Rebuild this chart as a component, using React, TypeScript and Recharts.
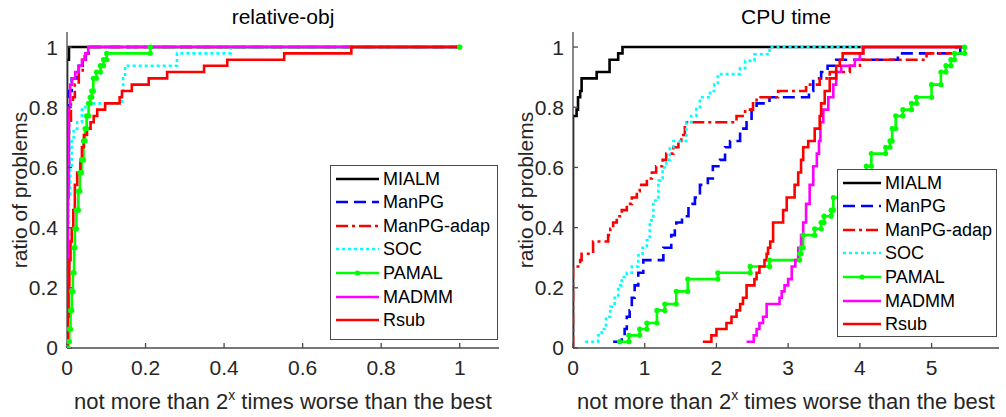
import React from 'react';
import { LineChart, Line, XAxis, YAxis } from 'recharts';

type P = [number, number];

const seriesNames = ['MIALM', 'ManPG', 'ManPG-adap', 'SOC', 'PAMAL', 'MADMM', 'Rsub'];
const seriesColors = ['#000000', '#0000ff', '#ff0000', '#00ffff', '#00ff00', '#ff00ff', '#ff0000'];
const seriesDash = ['', '12 6', '12 4 3 4', '3 3', '', '', ''];
const seriesMarker = [false, false, false, false, true, false, false];

// ---- relative-obj panel (x, ratio) ----
const relMIALM: P[] = [[0, 0], [0, 0.958], [0.005, 1], [1, 1]];
const relManPG: P[] = [[0, 0], [0.002, 0.6], [0.005, 0.854], [0.012, 0.896], [0.025, 0.917], [0.03, 0.938], [0.04, 0.958], [0.048, 0.979], [0.055, 1], [1, 1]];
const relManPGadap: P[] = [[0, 0], [0.002, 0.5], [0.005, 0.75], [0.01, 0.813], [0.015, 0.833], [0.02, 0.875], [0.03, 0.917], [0.04, 0.958], [0.045, 0.979], [0.055, 1], [1, 1]];
const relSOC: P[] = [[0, 0], [0.002, 0.3], [0.005, 0.5], [0.008, 0.6], [0.012, 0.688], [0.017, 0.729], [0.026, 0.75], [0.038, 0.792], [0.047, 0.813], [0.14, 0.854], [0.143, 0.896], [0.148, 0.938], [0.28, 0.979], [0.417, 1], [1, 1]];
const relPAMAL: P[] = [[0, 0], [0.003, 0.021], [0.006, 0.063], [0.009, 0.125], [0.012, 0.188], [0.015, 0.25], [0.018, 0.333], [0.02, 0.396], [0.024, 0.458], [0.029, 0.521], [0.033, 0.583], [0.037, 0.625], [0.042, 0.688], [0.046, 0.729], [0.05, 0.771], [0.055, 0.813], [0.059, 0.833], [0.063, 0.854], [0.067, 0.896], [0.075, 0.917], [0.085, 0.938], [0.093, 0.958], [0.101, 0.979], [0.212, 1], [1, 1]];
const relMADMM: P[] = [[0, 0], [0.001, 0.2], [0.002, 0.5], [0.004, 0.8], [0.008, 0.875], [0.013, 0.896], [0.021, 0.917], [0.03, 0.938], [0.038, 0.958], [0.047, 0.979], [0.054, 1], [1, 1]];
const relRsub: P[] = [[0, 0], [0.002, 0.104], [0.004, 0.208], [0.006, 0.292], [0.009, 0.354], [0.012, 0.396], [0.016, 0.458], [0.02, 0.542], [0.026, 0.583], [0.034, 0.625], [0.038, 0.667], [0.043, 0.708], [0.051, 0.729], [0.06, 0.75], [0.068, 0.771], [0.077, 0.792], [0.097, 0.813], [0.134, 0.833], [0.14, 0.854], [0.165, 0.875], [0.208, 0.896], [0.255, 0.917], [0.349, 0.938], [0.408, 0.958], [0.553, 0.979], [0.724, 1], [1, 1]];

// ---- CPU time panel ----
const cpuMIALM: P[] = [[0, 0], [0, 0.771], [0.05, 0.792], [0.07, 0.833], [0.1, 0.854], [0.12, 0.896], [0.33, 0.917], [0.51, 0.958], [0.63, 0.979], [0.69, 1], [5.46, 1]];
const cpuManPG: P[] = [[0.56, 0.021], [0.68, 0.042], [0.72, 0.063], [0.75, 0.104], [0.79, 0.125], [0.82, 0.167], [0.86, 0.208], [0.91, 0.25], [0.98, 0.292], [1.26, 0.333], [1.37, 0.375], [1.42, 0.396], [1.44, 0.417], [1.52, 0.438], [1.61, 0.479], [1.7, 0.5], [1.77, 0.542], [1.88, 0.563], [1.95, 0.604], [2.05, 0.625], [2.12, 0.667], [2.19, 0.688], [2.33, 0.729], [2.42, 0.75], [2.49, 0.792], [2.56, 0.813], [2.74, 0.833], [3.29, 0.854], [3.35, 0.896], [3.46, 0.917], [3.55, 0.938], [3.67, 0.958], [4.53, 0.979], [5.4, 1], [5.46, 1]];
const cpuManPGadap: P[] = [[0, 0], [0, 0.271], [0.1, 0.292], [0.12, 0.313], [0.28, 0.354], [0.49, 0.375], [0.52, 0.396], [0.56, 0.417], [0.61, 0.438], [0.68, 0.458], [0.75, 0.479], [0.82, 0.5], [0.89, 0.521], [0.93, 0.542], [1.03, 0.563], [1.1, 0.583], [1.16, 0.604], [1.25, 0.625], [1.3, 0.646], [1.4, 0.667], [1.47, 0.688], [1.51, 0.708], [1.56, 0.75], [2.28, 0.771], [2.4, 0.792], [2.51, 0.813], [2.56, 0.833], [2.86, 0.854], [3.25, 0.875], [3.44, 0.896], [3.58, 0.917], [3.86, 0.938], [4.0, 0.958], [4.93, 0.979], [5.35, 1], [5.46, 1]];
const cpuSOC: P[] = [[0.17, 0.021], [0.35, 0.042], [0.4, 0.063], [0.46, 0.104], [0.52, 0.137], [0.58, 0.167], [0.63, 0.208], [0.68, 0.236], [0.75, 0.25], [0.82, 0.271], [0.91, 0.308], [0.97, 0.333], [1.03, 0.358], [1.07, 0.424], [1.12, 0.49], [1.19, 0.556], [1.25, 0.6], [1.3, 0.625], [1.35, 0.667], [1.4, 0.688], [1.58, 0.75], [1.65, 0.771], [1.72, 0.8], [1.77, 0.833], [1.91, 0.854], [1.97, 0.875], [2.02, 0.91], [2.33, 0.93], [2.4, 0.954], [2.53, 0.976], [2.74, 1], [5.46, 1]];
const cpuPAMAL: P[] = [[0.65, 0.021], [0.78, 0.042], [0.93, 0.063], [1.03, 0.083], [1.17, 0.125], [1.28, 0.146], [1.44, 0.188], [1.6, 0.229], [2.02, 0.25], [2.47, 0.271], [2.74, 0.292], [3.16, 0.313], [3.18, 0.333], [3.21, 0.375], [3.37, 0.396], [3.46, 0.417], [3.5, 0.438], [3.6, 0.458], [3.63, 0.5], [3.8, 0.521], [3.95, 0.542], [4.05, 0.583], [4.09, 0.604], [4.16, 0.646], [4.36, 0.667], [4.42, 0.688], [4.45, 0.729], [4.5, 0.771], [4.6, 0.792], [4.72, 0.813], [4.79, 0.833], [5.0, 0.875], [5.13, 0.917], [5.2, 0.938], [5.27, 0.958], [5.32, 0.979], [5.46, 1]];
const cpuMADMM: P[] = [[2.42, 0.021], [2.52, 0.042], [2.56, 0.063], [2.6, 0.083], [2.65, 0.104], [2.7, 0.146], [2.88, 0.167], [2.91, 0.188], [2.95, 0.208], [3.0, 0.229], [3.05, 0.271], [3.1, 0.292], [3.14, 0.333], [3.18, 0.375], [3.21, 0.417], [3.25, 0.479], [3.3, 0.542], [3.35, 0.604], [3.4, 0.646], [3.43, 0.688], [3.45, 0.75], [3.49, 0.792], [3.56, 0.833], [3.63, 0.875], [3.67, 0.917], [3.74, 0.938], [3.93, 0.958], [4.0, 0.979], [4.04, 1], [5.46, 1]];
const cpuRsub: P[] = [[1.81, 0.021], [1.93, 0.042], [2.0, 0.063], [2.14, 0.083], [2.21, 0.104], [2.28, 0.125], [2.33, 0.146], [2.37, 0.167], [2.42, 0.208], [2.53, 0.229], [2.56, 0.25], [2.6, 0.271], [2.67, 0.292], [2.7, 0.313], [2.72, 0.333], [2.75, 0.354], [2.79, 0.417], [2.93, 0.458], [2.98, 0.5], [3.09, 0.542], [3.14, 0.583], [3.18, 0.625], [3.21, 0.667], [3.28, 0.688], [3.37, 0.729], [3.44, 0.771], [3.46, 0.813], [3.51, 0.854], [3.58, 0.896], [3.67, 0.938], [3.72, 0.958], [3.76, 0.979], [4.05, 1], [5.46, 1]];

const relSeries = [relMIALM, relManPG, relManPGadap, relSOC, relPAMAL, relMADMM, relRsub];
const cpuSeries = [cpuMIALM, cpuManPG, cpuManPGadap, cpuSOC, cpuPAMAL, cpuMADMM, cpuRsub];

const relXTicks = [0, 0.2, 0.4, 0.6, 0.8, 1];
const cpuXTicks = [0, 1, 2, 3, 4, 5];
const yTicks = [0, 0.2, 0.4, 0.6, 0.8, 1];

const FONT = '"Liberation Sans", Arial, Helvetica, sans-serif';
const AXIS = '#4a4a4a';
const TXT = '#262626';

// stairs (MATLAB style): horizontal then vertical at each new point
function toStairs(pts: P[]) {
  const out: { x: number; y: number }[] = [];
  pts.forEach((p, i) => {
    if (i > 0) out.push({ x: p[0], y: pts[i - 1][1] });
    out.push({ x: p[0], y: p[1] });
  });
  return out;
}

type LegendBox = { left: number; top: number; width: number; height: number; textLeft: number };

function Legend({ left, top, width, height, textLeft }: LegendBox) {
  return (
    <div
      style={{
        position: 'absolute',
        left,
        top,
        width,
        height,
        background: '#ffffff',
        border: `1.3px solid ${AXIS}`,
        boxSizing: 'border-box',
        fontFamily: FONT,
        fontSize: 18,
        color: '#000',
      }}
    >
      {seriesNames.map((n, i) => (
        <div key={n} style={{ position: 'absolute', left: 0, top: 0.5 + i * 23.6, height: 24, width: '100%' }}>
          <svg width={textLeft} height={24} style={{ position: 'absolute', left: 0, top: 0 }}>
            <line x1={5} y1={12} x2={textLeft - 4} y2={12} stroke={seriesColors[i]} strokeWidth={2.6} strokeDasharray={seriesDash[i] || undefined} />
            {seriesMarker[i] && <circle cx={(textLeft + 1) / 2} cy={12} r={2.6} fill={seriesColors[i]} />}
          </svg>
          <span style={{ position: 'absolute', left: textLeft, top: 1, lineHeight: '22px', whiteSpace: 'nowrap' }}>{n}</span>
        </div>
      ))}
    </div>
  );
}

function Panel({ left, width, title, series, xMax, xTicks, legend }: {
  left: number; width: number; title: string; series: P[][]; xMax: number; xTicks: number[]; legend: LegendBox;
}) {
  const plotCenter = 67 + (width - 74) / 2;
  return (
    <div style={{ position: 'absolute', left, top: 0, width, height: 417 }}>
      <LineChart width={width} height={417} margin={{ top: 32, right: 7, bottom: 0, left: 7 }}>
        <XAxis
          xAxisId="b"
          type="number"
          dataKey="x"
          domain={[0, xMax]}
          ticks={xTicks}
          allowDataOverflow
          height={69}
          tickSize={-5}
          tickMargin={17}
          stroke={AXIS}
          strokeWidth={1.3}
          tick={{ fill: TXT, fontSize: 21, fontFamily: FONT }}
          tickFormatter={(v: number) => String(v)}
        />
        <XAxis
          xAxisId="t"
          orientation="top"
          type="number"
          dataKey="x"
          domain={[0, xMax]}
          ticks={xTicks}
          allowDataOverflow
          height={0}
          tickSize={-5}
          tick={false}
          stroke={AXIS}
          strokeWidth={1.3}
        />
        <YAxis
          yAxisId="l"
          type="number"
          domain={[0, 1.05]}
          ticks={yTicks}
          allowDataOverflow
          width={60}
          tickSize={-5}
          tickMargin={14}
          stroke={AXIS}
          strokeWidth={1.3}
          tick={{ fill: TXT, fontSize: 21, fontFamily: FONT }}
          tickFormatter={(v: number) => String(v)}
        />
        <YAxis
          yAxisId="r"
          orientation="right"
          type="number"
          domain={[0, 1.05]}
          ticks={yTicks}
          allowDataOverflow
          width={0}
          tickSize={-5}
          tick={false}
          stroke={AXIS}
          strokeWidth={1.3}
        />
        {series.map((s, i) => (
          <Line
            key={seriesNames[i]}
            xAxisId="b"
            yAxisId="l"
            data={toStairs(s)}
            dataKey="y"
            type="linear"
            stroke={seriesColors[i]}
            strokeWidth={2.6}
            strokeDasharray={seriesDash[i] || undefined}
            dot={seriesMarker[i] ? { r: 2.6, fill: seriesColors[i], stroke: 'none' } : false}
            activeDot={false}
            isAnimationActive={false}
          />
        ))}
      </LineChart>
      <svg width={width} height={417} style={{ position: 'absolute', left: 0, top: 0, pointerEvents: 'none' }}>
        <text x={plotCenter} y={24} textAnchor="middle" fontFamily={FONT} fontSize={21} fill="#000">{title}</text>
        <text x={plotCenter} y={409} textAnchor="middle" fontFamily={FONT} fontSize={22} fill={TXT}>
          <tspan>not more than 2</tspan>
          <tspan dy={-9} fontSize={14}>x</tspan>
          <tspan dy={9}> times worse than the best</tspan>
        </text>
        <text x={27} y={190} textAnchor="middle" fontFamily={FONT} fontSize={21} fill={TXT} transform="rotate(-90 27 190)">ratio of problems</text>
      </svg>
      <Legend {...legend} />
    </div>
  );
}

export default function App() {
  return (
    <div style={{ position: 'absolute', left: 0, top: 0, width: 1006, height: 417, background: '#ffffff' }}>
      <Panel left={0} width={506} title="relative-obj" series={relSeries} xMax={1.1} xTicks={relXTicks}
        legend={{ left: 330, top: 165, width: 168, height: 175, textLeft: 52 }} />
      <Panel left={506} width={500} title="CPU time" series={cpuSeries} xMax={5.94} xTicks={cpuXTicks}
        legend={{ left: 331, top: 169, width: 160, height: 168, textLeft: 47 }} />
    </div>
  );
}
